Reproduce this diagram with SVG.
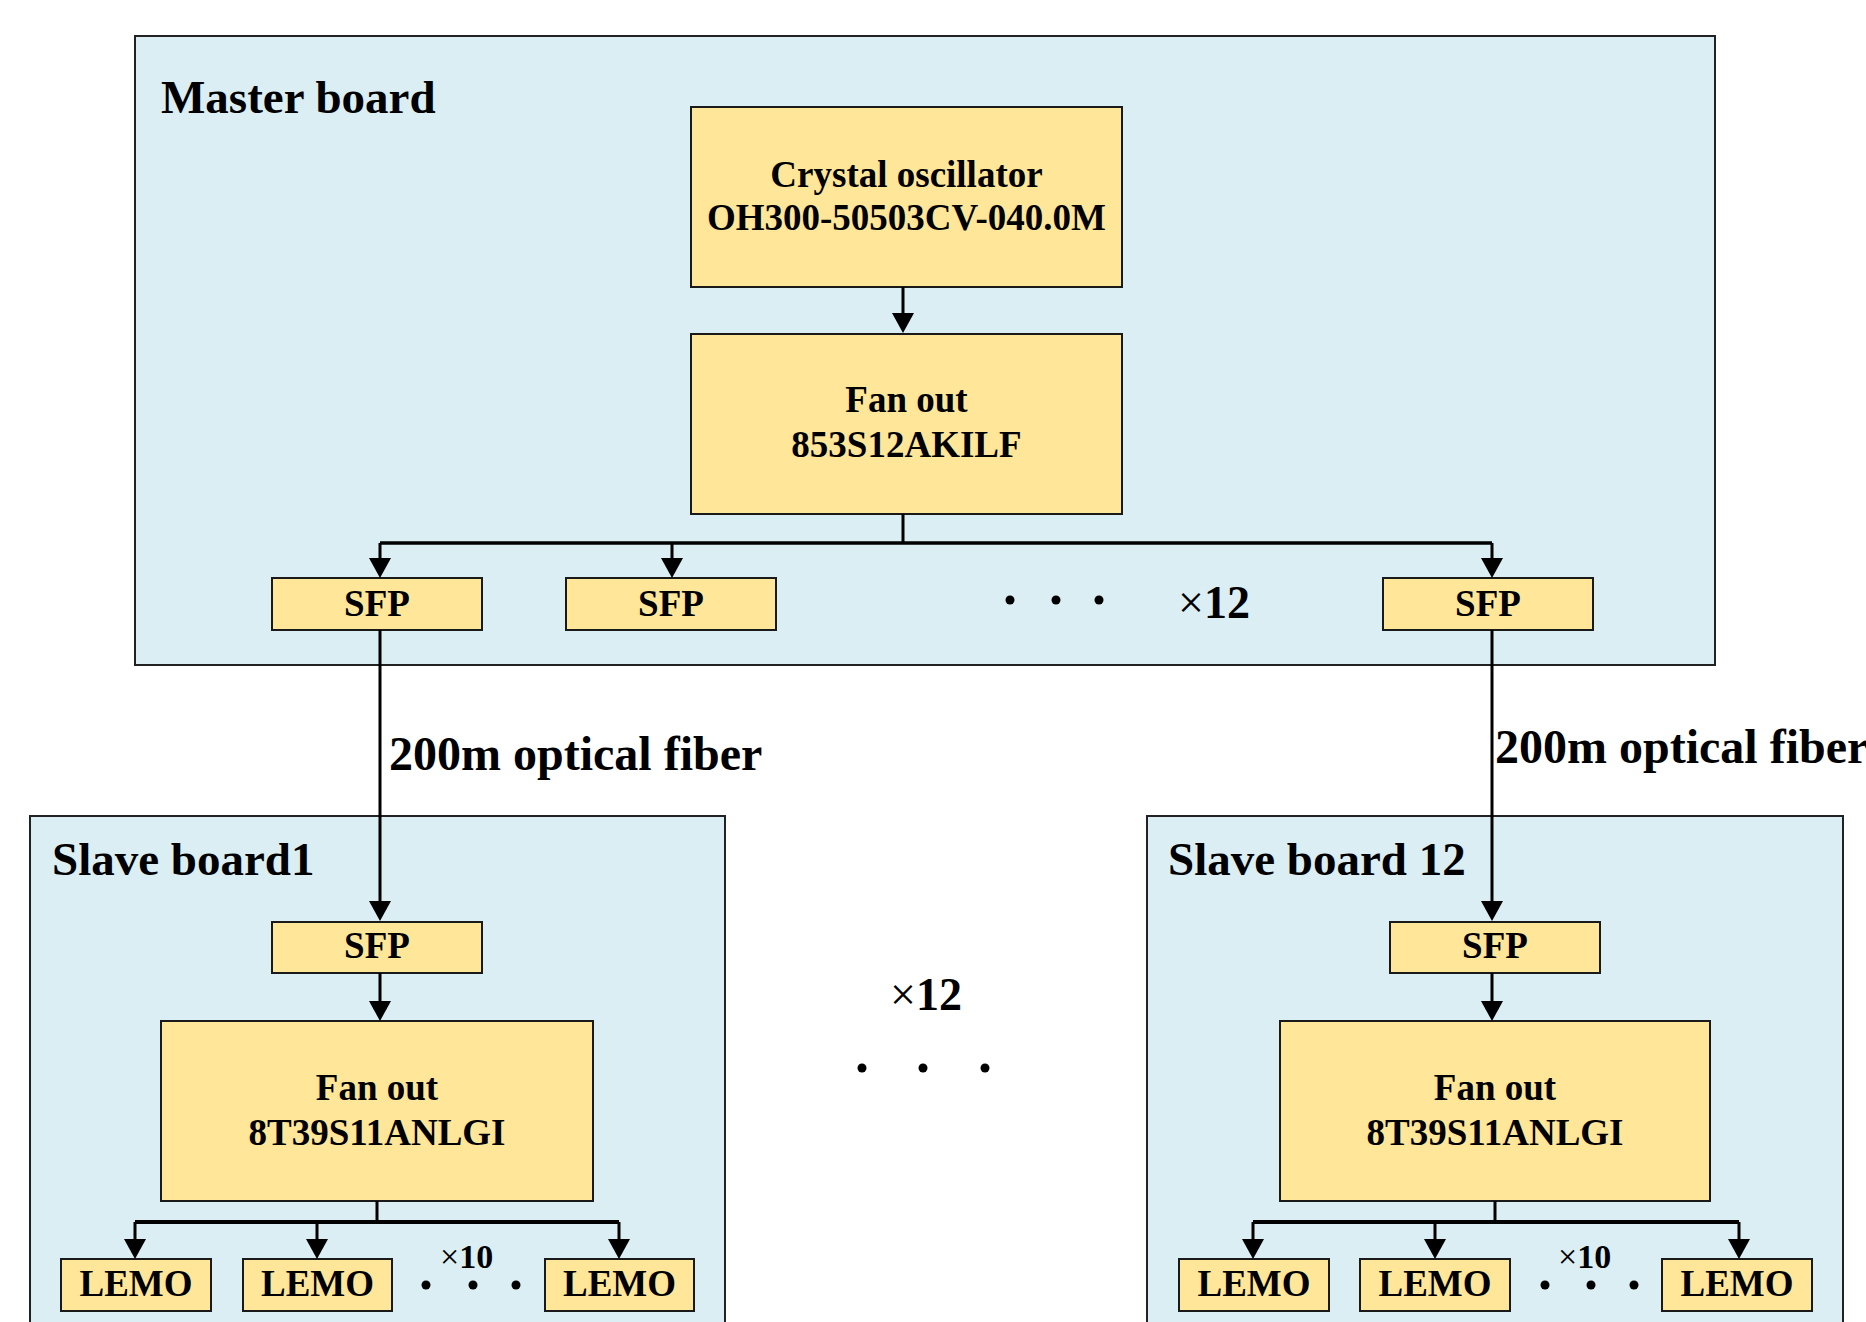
<svg xmlns="http://www.w3.org/2000/svg" width="1866" height="1322" viewBox="0 0 1866 1322">
  <style>
    .panel{fill:#DAEEF3;stroke:#222;stroke-width:2}
    .box{fill:#FFE699;stroke:#1a1a1a;stroke-width:2}
    text{font-family:"Liberation Serif","Times New Roman",serif;font-weight:bold;fill:#000}
    .lbl{font-size:37px;text-anchor:middle}
    .title{font-size:47px}
    .fiber{font-size:48px}
    .mult{font-size:46px}
    .mult10{font-size:34px}
    .reg{font-weight:normal}
    .wire{fill:none;stroke:#000;stroke-width:3}
    .bus{fill:none;stroke:#000;stroke-width:4}
    .dot{fill:#000}
  </style>
  <defs>
    <marker id="arr" markerUnits="userSpaceOnUse" viewBox="0 0 20 22" refX="14" refY="11" markerWidth="20" markerHeight="22" orient="auto">
      <path d="M0,0 L20,11 L0,22 z" fill="#000"/>
    </marker>
  </defs>

  <rect width="1866" height="1322" fill="#fff"/>

  <!-- boards -->
  <g id="master-board">
    <rect class="panel" x="135" y="36" width="1580" height="629"/>
    <text class="title" x="161" y="113">Master board</text>
  </g>
  <g id="slave-board-1">
    <rect class="panel" x="30" y="816" width="695" height="520"/>
    <text class="title" x="52" y="875">Slave board1</text>
  </g>
  <g id="slave-board-12">
    <rect class="panel" x="1147" y="816" width="696" height="520"/>
    <text class="title" x="1168" y="875">Slave board 12</text>
  </g>

  <!-- master board blocks -->
  <g id="crystal-oscillator">
    <rect class="box" x="691" y="107" width="431" height="180"/>
    <text class="lbl" x="906.5" y="187">Crystal oscillator</text>
    <text class="lbl" x="906.5" y="230">OH300-50503CV-040.0M</text>
  </g>
  <g id="master-fanout">
    <rect class="box" x="691" y="334" width="431" height="180"/>
    <text class="lbl" x="906.5" y="412">Fan out</text>
    <text class="lbl" x="906.5" y="457">853S12AKILF</text>
  </g>
  <g id="master-sfp-1">
    <rect class="box" x="272" y="578" width="210" height="52"/>
    <text class="lbl" x="377" y="616">SFP</text>
  </g>
  <g id="master-sfp-2">
    <rect class="box" x="566" y="578" width="210" height="52"/>
    <text class="lbl" x="671" y="616">SFP</text>
  </g>
  <g id="master-sfp-12">
    <rect class="box" x="1383" y="578" width="210" height="52"/>
    <text class="lbl" x="1488" y="616">SFP</text>
  </g>
  <g id="master-sfp-more">
    <circle class="dot" cx="1010" cy="600" r="4.5"/>
    <circle class="dot" cx="1056" cy="600" r="4.5"/>
    <circle class="dot" cx="1099" cy="600" r="4.5"/>
    <text class="mult" x="1178" y="618"><tspan class="reg">×</tspan>12</text>
  </g>

  <!-- slave board 1 blocks -->
  <g id="slave1-sfp">
    <rect class="box" x="272" y="922" width="210" height="51"/>
    <text class="lbl" x="377" y="958">SFP</text>
  </g>
  <g id="slave1-fanout">
    <rect class="box" x="161" y="1021" width="432" height="180"/>
    <text class="lbl" x="377" y="1100">Fan out</text>
    <text class="lbl" x="377" y="1145">8T39S11ANLGI</text>
  </g>
  <g id="slave1-lemo-1">
    <rect class="box" x="61" y="1259" width="150" height="52"/>
    <text class="lbl" x="136" y="1296">LEMO</text>
  </g>
  <g id="slave1-lemo-2">
    <rect class="box" x="243" y="1259" width="149" height="52"/>
    <text class="lbl" x="317.5" y="1296">LEMO</text>
  </g>
  <g id="slave1-lemo-10">
    <rect class="box" x="545" y="1259" width="149" height="52"/>
    <text class="lbl" x="619.5" y="1296">LEMO</text>
  </g>
  <g id="slave1-lemo-more">
    <text class="mult10" x="440" y="1268"><tspan class="reg">×</tspan>10</text>
    <circle class="dot" cx="426" cy="1285" r="4.5"/>
    <circle class="dot" cx="473" cy="1285" r="4.5"/>
    <circle class="dot" cx="516" cy="1285" r="4.5"/>
  </g>

  <!-- slave board 12 blocks -->
  <g id="slave12-sfp">
    <rect class="box" x="1390" y="922" width="210" height="51"/>
    <text class="lbl" x="1495" y="958">SFP</text>
  </g>
  <g id="slave12-fanout">
    <rect class="box" x="1280" y="1021" width="430" height="180"/>
    <text class="lbl" x="1495" y="1100">Fan out</text>
    <text class="lbl" x="1495" y="1145">8T39S11ANLGI</text>
  </g>
  <g id="slave12-lemo-1">
    <rect class="box" x="1179" y="1259" width="150" height="52"/>
    <text class="lbl" x="1254" y="1296">LEMO</text>
  </g>
  <g id="slave12-lemo-2">
    <rect class="box" x="1360" y="1259" width="150" height="52"/>
    <text class="lbl" x="1435" y="1296">LEMO</text>
  </g>
  <g id="slave12-lemo-10">
    <rect class="box" x="1662" y="1259" width="150" height="52"/>
    <text class="lbl" x="1737" y="1296">LEMO</text>
  </g>
  <g id="slave12-lemo-more">
    <text class="mult10" x="1558" y="1268"><tspan class="reg">×</tspan>10</text>
    <circle class="dot" cx="1545" cy="1285" r="4.5"/>
    <circle class="dot" cx="1591" cy="1285" r="4.5"/>
    <circle class="dot" cx="1634" cy="1285" r="4.5"/>
  </g>

  <!-- repeated slave boards between 1 and 12 -->
  <g id="slave-boards-more">
    <text class="mult" x="890" y="1010"><tspan class="reg">×</tspan>12</text>
    <circle class="dot" cx="862" cy="1068" r="4.5"/>
    <circle class="dot" cx="923" cy="1068" r="4.5"/>
    <circle class="dot" cx="985" cy="1068" r="4.5"/>
  </g>

  <!-- connectors -->
  <g id="connectors">
    <!-- master board -->
    <path class="wire" d="M903,287 V327" marker-end="url(#arr)"/>
    <path class="wire" d="M903,514 V543"/>
    <path class="wire" d="M380,543 H1492" style="stroke-width:3.5"/>
    <path class="wire" d="M380,543 V572" marker-end="url(#arr)"/>
    <path class="wire" d="M672,543 V572" marker-end="url(#arr)"/>
    <path class="wire" d="M1492,543 V572" marker-end="url(#arr)"/>
    <!-- optical fibres -->
    <path class="wire" d="M380,630 V915" marker-end="url(#arr)"/>
    <path class="wire" d="M1492,630 V915" marker-end="url(#arr)"/>
    <text class="fiber" x="389" y="770">200m optical fiber</text>
    <text class="fiber" x="1495" y="763">200m optical fiber</text>
    <!-- slave board 1 -->
    <path class="wire" d="M380,973 V1015" marker-end="url(#arr)"/>
    <path class="wire" d="M377,1201 V1222"/>
    <path class="bus" d="M135,1222 H619"/>
    <path class="wire" d="M135,1222 V1253" marker-end="url(#arr)"/>
    <path class="wire" d="M317,1222 V1253" marker-end="url(#arr)"/>
    <path class="wire" d="M619,1222 V1253" marker-end="url(#arr)"/>
    <!-- slave board 12 -->
    <path class="wire" d="M1492,973 V1015" marker-end="url(#arr)"/>
    <path class="wire" d="M1495,1201 V1222"/>
    <path class="bus" d="M1253,1222 H1739"/>
    <path class="wire" d="M1253,1222 V1253" marker-end="url(#arr)"/>
    <path class="wire" d="M1435,1222 V1253" marker-end="url(#arr)"/>
    <path class="wire" d="M1739,1222 V1253" marker-end="url(#arr)"/>
  </g>
</svg>
